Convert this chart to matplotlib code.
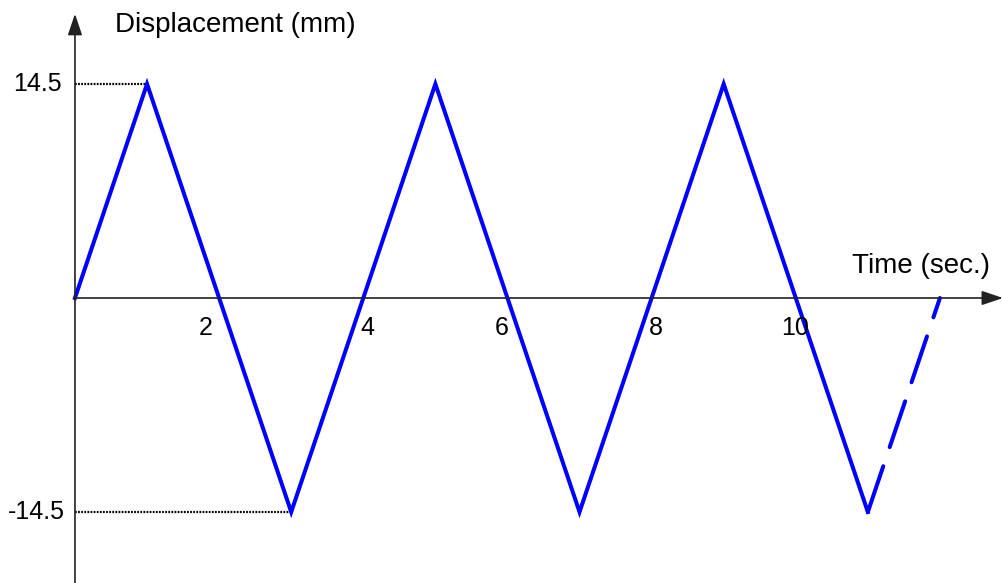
import numpy as np
import matplotlib.pyplot as plt

plt.rcParams["font.family"] = ["Liberation Sans", "DejaVu Sans"]

# ── Dati ─────────────────────────────────────────────────────────
t_solid = [0, 1, 3, 5, 7, 9, 11]
d_solid = [0, 14.5, -14.5, 14.5, -14.5, 14.5, -14.5]
t_dash = [11, 12]
d_dash = [-14.5, 0]
amp = 14.5
tick_pos = [1.82, 4.06, 5.92, 8.06, 9.99]
tick_labels = ["2", "4", "6", "8", "10"]

fig = plt.figure(figsize=(10.03, 5.83), dpi=100)
ax = fig.add_axes([0, 0, 1, 1])
ax.set_xlim(-1.04, 12.875)
ax.set_ylim(-19.31, 20.19)
ax.axis("off")

# assi con frecce
arrow = "-|>,head_length=0.65,head_width=0.22"
ax.annotate("", xy=(12.875, 0), xytext=(0, 0),
            arrowprops=dict(arrowstyle=arrow, color="#222222", lw=1.2,
                            mutation_scale=20, shrinkA=0, shrinkB=0))
ax.annotate("", xy=(0, 19.25), xytext=(0, -19.31),
            arrowprops=dict(arrowstyle=arrow, color="#222222", lw=1.2,
                            mutation_scale=20, shrinkA=0, shrinkB=0))

# linee tratteggiate di riferimento
ax.plot([0, t_solid[1]], [amp, amp], color="black", lw=1.6, ls=(0, (0.8, 0.6)))
ax.plot([0, t_solid[2]], [-amp, -amp], color="black", lw=1.6, ls=(0, (0.8, 0.6)))

# spostamento
ax.plot(t_solid, d_solid, color="#0000ff", lw=2.9, solid_joinstyle="miter")
ax.plot(t_dash, d_dash, color="#0000ff", lw=2.9, dashes=[12, 5],
        dash_capstyle="round")

# etichette
ax.text(-0.18, amp, "14.5", fontsize=18, ha="right", va="center")
ax.text(-0.14, -amp, "-14.5", fontsize=18, ha="right", va="center")
for x, lab in zip(tick_pos, tick_labels):
    ax.text(x, -2.05, lab, fontsize=18, ha="center", va="center")

ax.text(0.55, 18.5, "Displacement (mm)", fontsize=20, ha="left", va="center")
ax.text(12.69, 2.2, "Time (sec.)", fontsize=20, ha="right", va="center")

fig.savefig("out.png", dpi=100)
plt.close(fig)
